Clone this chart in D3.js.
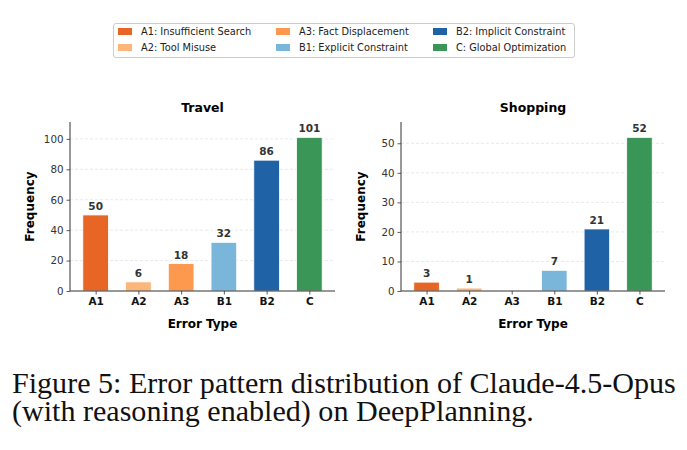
<!DOCTYPE html>
<html>
<head>
<meta charset="utf-8">
<script src="https://cdn.jsdelivr.net/npm/d3@7"></script>
<style>
  body { margin: 0; background: #fff; }
  svg { display: block; }
</style>
</head>
<body>
<svg id="fig" width="687" height="450"></svg>
<script>
// error categories and their legend names
var codes = ["A1", "A2", "A3", "B1", "B2", "C"];
var legendNames = [
    "A1: Insufficient Search",
    "A2: Tool Misuse",
    "A3: Fact Displacement",
    "B1: Explicit Constraint",
    "B2: Implicit Constraint",
    "C: Global Optimization"
];
var colors = ["#e6550d", "#fdae6b", "#fd8d3c", "#6baed6", "#08519c", "#238b45"];

// frequencies per domain
var travelCounts = [50, 6, 18, 32, 86, 101];
var shoppingCounts = [3, 1, 0, 7, 21, 52];

var travelTicks = [0, 20, 40, 60, 80, 100];
var shoppingTicks = [0, 10, 20, 30, 40, 50];

var captionLines = [
    "Figure 5: Error pattern distribution of Claude-4.5-Opus",
    "(with reasoning enabled) on DeepPlanning."
];

var svg = d3.select("#fig");
var sans = "'DejaVu Sans', sans-serif";

// legend
var legend = svg.append("g");
legend.append("rect")
    .attr("x", 113.5).attr("y", 23.5)
    .attr("width", 461).attr("height", 34)
    .attr("rx", 2.5)
    .style("fill", "#fff")
    .style("stroke", "#cccccc")
    .style("stroke-width", 1);

var colX = [118, 276, 433];
var rowY = [31.5, 47.5];
legendNames.forEach(function(name, i) {
    var col = Math.floor(i / 2), row = i % 2;
    legend.append("rect")
        .attr("x", colX[col]).attr("y", rowY[row] - 3.5)
        .attr("width", 14).attr("height", 7)
        .style("fill", colors[i])
        .style("opacity", 0.9);
    legend.append("text")
        .attr("x", colX[col] + 23).attr("y", rowY[row])
        .attr("dy", "0.35em")
        .style("font-family", sans)
        .style("font-size", "9.8px")
        .style("fill", "#222")
        .text(name);
});

function drawPanel(title, counts, ticks, box) {
    var g = svg.append("g");
    var x = d3.scaleLinear().domain([-0.6, 5.6]).range([box.left, box.right]);
    var y = d3.scaleLinear().domain([0, d3.max(counts) * 1.1]).range([box.bottom, box.top]);

    // grid
    g.selectAll("line.grid")
        .data(ticks.filter(function(t) { return t > 0; }))
        .join("line")
        .classed("grid", true)
        .attr("x1", box.left).attr("x2", box.right)
        .attr("y1", function(d) { return y(d); })
        .attr("y2", function(d) { return y(d); })
        .style("stroke", "#e3e3e3")
        .style("stroke-width", 0.8)
        .style("stroke-dasharray", "3,2");

    // bars
    g.selectAll("rect.bar")
        .data(counts)
        .join("rect")
        .classed("bar", true)
        .attr("x", function(d, i) { return x(i - 0.3); })
        .attr("width", x(0.6) - x(0))
        .attr("y", function(d) { return y(d); })
        .attr("height", function(d) { return box.bottom - y(d); })
        .style("fill", function(d, i) { return colors[i]; })
        .style("fill-opacity", 0.9)
        .style("stroke", "#fff")
        .style("stroke-width", 0.8);

    // value labels (skip zero bars)
    g.selectAll("text.val")
        .data(counts)
        .join("text")
        .classed("val", true)
        .attr("x", function(d, i) { return x(i); })
        .attr("y", function(d) { return y(d) - 5; })
        .attr("text-anchor", "middle")
        .style("font-family", sans)
        .style("font-size", "10.5px")
        .style("font-weight", "bold")
        .style("fill", "#333")
        .text(function(d) { return d > 0 ? d : ""; });

    // axes
    var yAxis = d3.axisLeft(y).tickValues(ticks).tickSize(3.5).tickPadding(3);
    var gy = g.append("g").attr("transform", "translate(" + box.left + ",0)").call(yAxis);
    gy.select(".domain").attr("d", "M0," + box.bottom + "V" + box.top);

    var xAxis = d3.axisBottom(x).tickValues(d3.range(codes.length))
        .tickFormat(function(i) { return codes[i]; }).tickSize(3.5).tickPadding(3);
    var gx = g.append("g").attr("transform", "translate(0," + box.bottom + ")").call(xAxis);
    gx.select(".domain").attr("d", "M" + box.left + ",0H" + box.right);

    g.selectAll(".domain").style("stroke", "#333").style("stroke-width", 1);
    g.selectAll(".tick line").style("stroke", "#333").style("stroke-width", 0.8);
    gy.selectAll(".tick text")
        .style("font-family", sans).style("font-size", "10.3px").style("fill", "#333");
    gx.selectAll(".tick text")
        .style("font-family", sans).style("font-size", "10.5px")
        .style("font-weight", "bold").style("fill", "#111");

    // title and labels
    g.append("text")
        .attr("x", (box.left + box.right) / 2).attr("y", 112)
        .attr("text-anchor", "middle")
        .style("font-family", sans).style("font-size", "12.5px").style("font-weight", "bold")
        .text(title);
    g.append("text")
        .attr("x", (box.left + box.right) / 2).attr("y", 327.5)
        .attr("text-anchor", "middle")
        .style("font-family", sans).style("font-size", "12px").style("font-weight", "bold")
        .text("Error Type");
    g.append("text")
        .attr("transform", "translate(" + (box.left - 36) + "," + ((box.top + box.bottom) / 2) + ") rotate(-90)")
        .attr("text-anchor", "middle")
        .style("font-family", sans).style("font-size", "12px").style("font-weight", "bold")
        .text("Frequency");
}

drawPanel("Travel", travelCounts, travelTicks, {left: 70, right: 335, top: 122, bottom: 291});
drawPanel("Shopping", shoppingCounts, shoppingTicks, {left: 401, right: 665, top: 122, bottom: 291});

// caption, fitted to the width of the first line
var cap = svg.append("g");
var capText = cap.selectAll("text")
    .data(captionLines)
    .join("text")
    .attr("x", 12)
    .attr("y", function(d, i) { return 393 + i * 27.5; })
    .style("font-family", "'Liberation Serif', 'Times New Roman', Times, serif")
    .style("font-size", "26px")
    .style("fill", "#111")
    .text(function(d) { return d; });
var w = capText.node().getComputedTextLength();
capText.style("font-size", (26 * 664 / w) + "px");
</script>
</body>
</html>
